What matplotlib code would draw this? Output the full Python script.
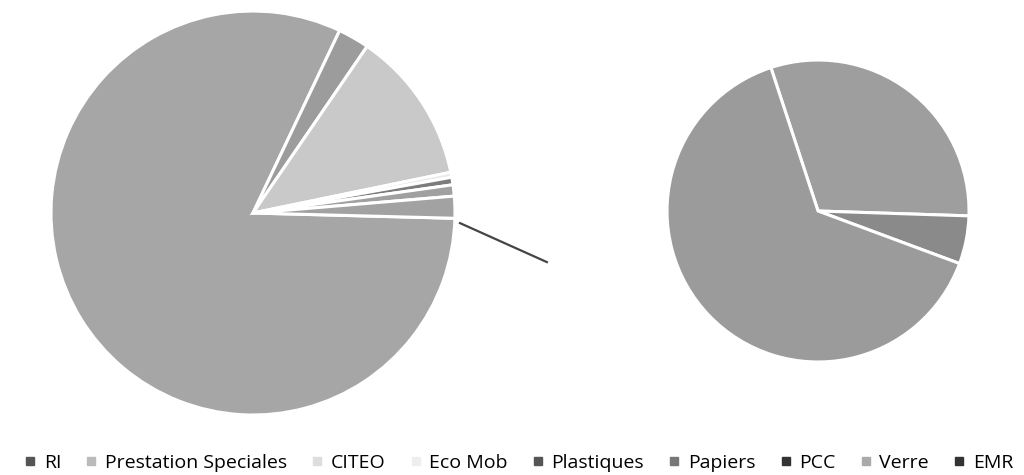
import matplotlib.pyplot as plt
from matplotlib.lines import Line2D

plt.rcParams['font.family'] = ['Open Sans', 'DejaVu Sans']

# données (parts en %)
labels = ['RI', 'Prestation Speciales', 'CITEO', 'Eco Mob', 'Plastiques',
          'Papiers', 'PCC', 'Verre', 'EMR']
main_values = [81.6, 2.5, 12.2, 0.4, 0.6, 0.9]
sub_values = [0.535, 0.09, 1.125]   # PCC, Verre, EMR
other_value = sum(sub_values)

main_colors = ['#a6a6a6', '#9c9c9c', '#c9c9c9', '#e8e8e8', '#7c7c7c', '#a0a0a0', '#a2a2a2']
sub_colors = ['#9e9e9e', '#8a8a8a', '#9b9b9b']
legend_colors = ['#555555', '#bbbbbb', '#dddddd', '#eeeeee', '#555555',
                 '#777777', '#333333', '#aaaaaa', '#333333']

fig = plt.figure(figsize=(10.24, 4.75), dpi=100)

# camembert principal
ax1 = fig.add_axes([0.0498, 0.1263, 0.3945, 0.8505])
ax1.pie(main_values + [other_value], colors=main_colors, startangle=-1.5,
        counterclock=False, wedgeprops=dict(edgecolor='white', linewidth=2.2))
ax1.set_xlim(-1, 1)
ax1.set_ylim(-1, 1)
ax1.axis('off')

# camembert secondaire
ax2 = fig.add_axes([0.6514, 0.2379, 0.2949, 0.6358])
ax2.pie(sub_values, colors=sub_colors, startangle=108.2, counterclock=False,
        wedgeprops=dict(edgecolor='white', linewidth=2.2))
ax2.set_xlim(-1, 1)
ax2.set_ylim(-1, 1)
ax2.axis('off')

# ligne de liaison
link_x = [1.025, 1.455]
link_y = [-0.05, -0.243]
ax1.add_line(Line2D(link_x, link_y, color='#454545', lw=1.6, clip_on=False))

handles = [Line2D([], [], marker='s', linestyle='none', markersize=6,
                  markerfacecolor=c, markeredgecolor=c) for c in legend_colors]
fig.legend(handles, labels, loc='center', bbox_to_anchor=(0.507, 0.025), ncol=9,
           frameon=False, fontsize=14, handlelength=0.5, handletextpad=0.45,
           columnspacing=1.3, borderaxespad=0)

fig.savefig('out.png', dpi=100)
